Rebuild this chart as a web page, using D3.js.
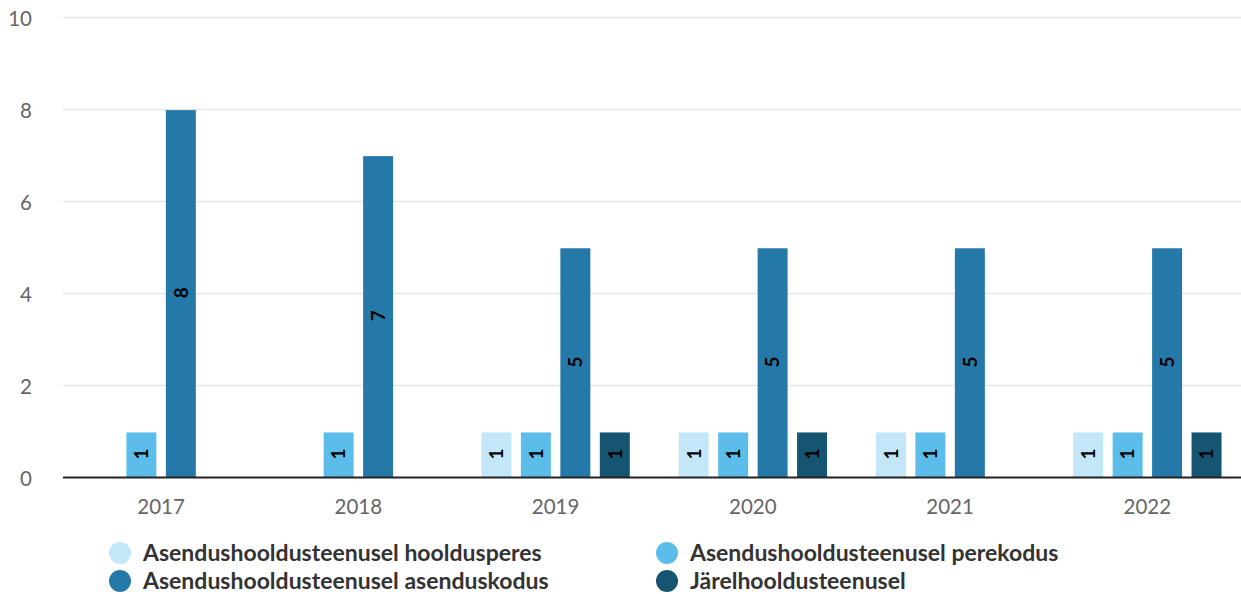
<!DOCTYPE html>
<html>
<head>
<meta charset="utf-8">
<script src="https://cdn.jsdelivr.net/npm/d3@7"></script>
<style>
  body { margin: 0; background: #fff; }
  svg { display: block; font-family: Lato, "Open Sans", sans-serif; }
</style>
</head>
<body>
<div id="chart"></div>
<script>
const years = ["2017", "2018", "2019", "2020", "2021", "2022"]
const seriesNames = [
    "Asendushooldusteenusel hooldusperes",
    "Asendushooldusteenusel perekodus",
    "Asendushooldusteenusel asenduskodus",
    "Järelhooldusteenusel"
]
const seriesColors = ["#c3e7f8", "#5cbdeb", "#2479a9", "#155571"]
// null = no bar for that year
const hooldusperes = [null, null, 1, 1, 1, 1]
const perekodus = [1, 1, 1, 1, 1, 1]
const asenduskodus = [8, 7, 5, 5, 5, 5]
const jarelhooldus = [null, null, 1, 1, null, 1]
const yTicks = [0, 2, 4, 6, 8, 10]

const allSeries = [hooldusperes, perekodus, asenduskodus, jarelhooldus]

const svgWidth = 1241, svgHeight = 594

const svg = d3.select("#chart")
    .append("svg")
    .attr("width", svgWidth)
    .attr("height", svgHeight)

// Scales
const x0 = d3.scaleBand()
    .domain(years)
    .range([62.5, 1246])

const bw = x0.bandwidth()
const x1 = d3.scaleBand()
    .domain(d3.range(seriesNames.length))
    .range([bw * 0.1, bw * 0.9])
    .paddingInner(0.24)
    .paddingOuter(0.12)

const y = d3.scaleLinear()
    .domain([0, 10])
    .range([477, 16.5])

// Gridlines
svg.append("g")
    .selectAll("line")
    .data(yTicks.filter(d => d > 0))
    .enter()
    .append("line")
    .attr("x1", 63)
    .attr("x2", svgWidth)
    .attr("y1", d => Math.round(y(d)) + 0.5)
    .attr("y2", d => Math.round(y(d)) + 0.5)
    .attr("stroke", "#e6e6e6")
    .attr("stroke-width", 1.5)

// Y axis labels
const yAxis = d3.axisLeft(y).tickValues(yTicks).tickSize(0).tickPadding(0)
svg.append("g")
    .attr("transform", "translate(32, 2)")
    .call(yAxis)
    .call(g => g.select(".domain").remove())
    .selectAll("text")
    .attr("fill", "#666")
    .attr("font-size", 20.5)
    .attr("font-family", "Lato, sans-serif")

// Bars
const groups = svg.append("g")
    .selectAll("g")
    .data(years)
    .enter()
    .append("g")
    .attr("transform", d => `translate(${x0(d)}, 0)`)

const cells = groups.selectAll("g")
    .data((yr, i) => allSeries.map((s, k) => ({ k, v: s[i] })).filter(d => d.v !== null))
    .enter()
    .append("g")

cells.append("rect")
    .attr("x", d => x1(d.k))
    .attr("width", x1.bandwidth())
    .attr("y", d => y(d.v) + 1.5)
    .attr("height", d => y(0) - y(d.v) - 1.5)
    .attr("fill", d => seriesColors[d.k])

cells.append("text")
    .attr("transform", d => `translate(${x1(d.k) + x1.bandwidth() / 2}, ${(y(d.v) + y(0)) / 2}) rotate(-90)`)
    .attr("text-anchor", "middle")
    .attr("dy", "0.36em")
    .attr("font-size", 19)
    .attr("font-weight", 700)
    .attr("fill", "#000")
    .text(d => d.v)

// X axis
const xAxis = d3.axisBottom(x0).tickSize(0).tickPadding(0)
svg.append("g")
    .attr("transform", `translate(0, ${y(0)})`)
    .call(xAxis)
    .call(g => g.select(".domain").remove())
    .selectAll("text")
    .attr("dy", 37)
    .attr("fill", "#666")
    .attr("font-size", 20.5)
    .attr("font-family", "Lato, sans-serif")

svg.append("line")
    .attr("x1", 63)
    .attr("x2", svgWidth)
    .attr("y1", y(0) + 0.5)
    .attr("y2", y(0) + 0.5)
    .attr("stroke", "#222")
    .attr("stroke-width", 2)

// Legend
const legendPos = [[120, 553], [667, 553], [120, 581], [667, 581]]
const legend = svg.append("g")
    .selectAll("g")
    .data(seriesNames)
    .enter()
    .append("g")
    .attr("transform", (d, i) => `translate(${legendPos[i][0]}, ${legendPos[i][1]})`)

legend.append("circle")
    .attr("r", 11)
    .attr("fill", (d, i) => seriesColors[i])

legend.append("text")
    .attr("x", 23)
    .attr("dy", "0.36em")
    .attr("font-size", 23)
    .attr("font-weight", 700)
    .attr("fill", "#333")
    .attr("font-family", "Lato, sans-serif")
    .text(d => d)
</script>
</body>
</html>
